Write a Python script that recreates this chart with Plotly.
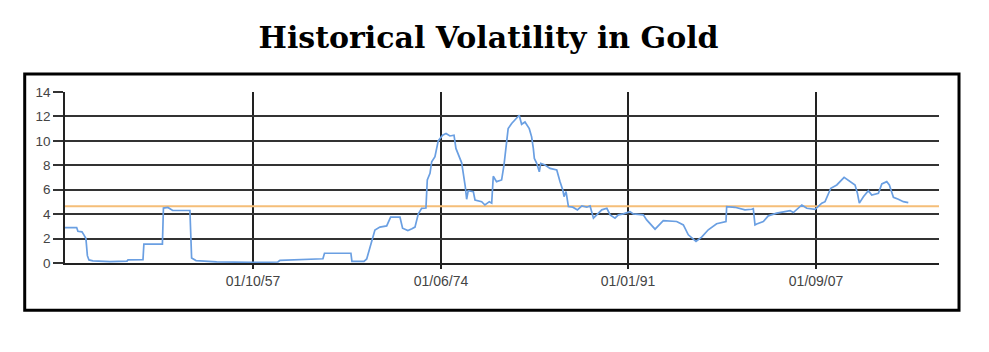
import plotly.graph_objects as go
import pandas as pd

# decimal years and historical volatility values
years = [1941.08, 1942.12, 1942.23, 1942.59, 1942.76, 1942.94, 1943.07, 1943.21, 1943.56, 1945.07,
         1946.58, 1946.67, 1948.0, 1948.08, 1949.72, 1949.81, 1950.21, 1950.63, 1952.16, 1952.31,
         1952.7, 1954.53, 1957.49, 1959.96, 1960.14, 1962.62, 1963.95, 1964.09, 1966.43, 1966.52,
         1967.59, 1967.83, 1968.36, 1968.56, 1969.0, 1969.6, 1969.95, 1970.78, 1971.01, 1971.48,
         1971.84, 1972.11, 1972.4, 1972.7, 1973.08, 1973.2, 1973.44, 1973.59, 1973.88, 1974.17,
         1974.56, 1974.86, 1975.21, 1975.57, 1975.74, 1975.98, 1976.25, 1976.57, 1976.69, 1976.83,
         1977.28, 1977.43, 1978.02, 1978.31, 1978.7, 1978.91, 1979.05, 1979.34, 1979.79, 1980.0,
         1980.23, 1980.37, 1980.68, 1980.97, 1981.35, 1981.56, 1981.86, 1982.24, 1982.45, 1982.6,
         1982.69, 1982.9, 1983.13, 1983.26, 1983.64, 1984.08, 1984.68, 1984.97, 1985.21, 1985.32,
         1985.5, 1985.71, 1986.1, 1986.51, 1986.9, 1987.34, 1987.63, 1987.93, 1988.23, 1988.67,
         1989.12, 1989.41, 1989.84, 1990.14, 1990.58, 1991.17, 1991.46, 1992.35, 1992.65, 1993.39,
         1994.12, 1995.31, 1995.9, 1996.34, 1997.02, 1997.52, 1998.11, 1998.85, 1999.68, 1999.74,
         2000.48, 2001.36, 2001.96, 2002.1, 2002.25, 2002.4, 2002.99, 2003.43, 2004.18, 2005.36,
         2005.65, 2006.4, 2006.84, 2007.58, 2008.17, 2008.46, 2008.97, 2009.5, 2010.15, 2010.68,
         2011.12, 2011.33, 2011.5, 2011.86, 2012.3, 2012.6, 2013.19, 2013.49, 2013.93, 2014.16,
         2014.52, 2014.96, 2015.4, 2015.84]
volatility = [2.9, 2.9, 2.6, 2.55, 2.3, 2.0, 0.6, 0.25, 0.18, 0.12,
              0.15, 0.25, 0.28, 1.55, 1.55, 4.5, 4.55, 4.3, 4.3, 0.4,
              0.2, 0.1, 0.05, 0.08, 0.22, 0.33, 0.35, 0.8, 0.8, 0.13,
              0.13, 0.33, 2.2, 2.7, 2.94, 3.04, 3.75, 3.75, 2.85, 2.66,
              2.8, 2.94, 4.0, 4.48, 4.5, 6.8, 7.34, 8.29, 8.7, 10.0,
              10.46, 10.6, 10.4, 10.46, 9.38, 8.83, 8.2, 6.25, 5.22, 5.92,
              5.84, 5.16, 5.02, 4.75, 5.02, 4.9, 7.1, 6.66, 6.8, 8.02,
              10.06, 11.0, 11.42, 11.69, 12.1, 11.36, 11.55, 11.0, 10.33, 9.38,
              8.56, 8.16, 7.47, 8.16, 8.02, 7.75, 7.61, 6.66, 5.98, 5.43,
              5.84, 4.62, 4.57, 4.35, 4.67, 4.57, 4.67, 3.67, 3.94, 4.35,
              4.48, 3.94, 3.67, 3.94, 4.02, 4.21, 4.02, 3.94, 3.53, 2.77,
              3.47, 3.4, 3.12, 2.31, 1.76, 2.12, 2.72, 3.21, 3.4, 4.62,
              4.56, 4.35, 4.4, 4.45, 3.12, 3.2, 3.4, 3.86, 4.08, 4.29,
              4.13, 4.75, 4.48, 4.4, 4.9, 5.02, 6.12, 6.39, 7.01, 6.66,
              6.39, 5.71, 4.9, 5.43, 5.92, 5.57, 5.71, 6.47, 6.66, 6.39,
              5.38, 5.22, 5.02, 4.94]

average_level = 4.65
x_range = ["1941-02-01", "2018-07-25"]
tick_dates = ["1957-10-01", "1974-06-01", "1991-01-01", "2007-09-01"]
tick_labels = ["01/10/57", "01/06/74", "01/01/91", "01/09/07"]
y_ticks = [0, 2, 4, 6, 8, 10, 12, 14]


def to_date(y):
    yr = int(y)
    return pd.Timestamp(year=yr, month=1, day=1) + pd.Timedelta(days=(y - yr) * 365.25)


dates = [to_date(y) for y in years]

fig = go.Figure()
fig.add_trace(go.Scatter(x=x_range, y=[average_level, average_level], mode="lines",
                         line=dict(color="#F5BE78", width=2), showlegend=False, hoverinfo="skip"))
fig.add_trace(go.Scatter(x=dates, y=volatility, mode="lines",
                         line=dict(color="#6A9FE2", width=1.7), showlegend=False))

fig.update_layout(
    width=989, height=352,
    margin=dict(l=65, r=50, t=92, b=89),
    paper_bgcolor="white", plot_bgcolor="white",
    title=dict(text="<b>Historical Volatility in Gold</b>", x=0.494, xanchor="center",
               y=1 - 37 / 352, yref="container", yanchor="middle",
               font=dict(family="DejaVu Serif", size=30, color="black")),
    font=dict(family="Liberation Sans, Arial, sans-serif", size=13, color="#333"),
    xaxis=dict(type="date", range=x_range, tickvals=tick_dates, ticktext=tick_labels,
               showgrid=True, gridcolor="#222", gridwidth=1.5, zeroline=False,
               showline=True, linecolor="#222", linewidth=1.5,
               ticks="outside", ticklen=4, tickcolor="#222", tickwidth=1.5,
               tickfont=dict(size=14, color="#444")),
    yaxis=dict(range=[0, 14], tickvals=y_ticks, showgrid=True, gridcolor="#333", gridwidth=1.5,
               zeroline=False, showline=True, linecolor="#222", linewidth=1.5,
               ticks="outside", ticklen=10, tickcolor="#333", tickwidth=1.5,
               tickfont=dict(size=13.5, color="#444")),
    shapes=[dict(type="rect", xref="paper", yref="paper",
                 x0=-0.0461, x1=1.0229, y0=-0.2766, y1=1.105,
                 line=dict(color="black", width=3), fillcolor="rgba(0,0,0,0)")],
)

fig.write_html("out.html")
